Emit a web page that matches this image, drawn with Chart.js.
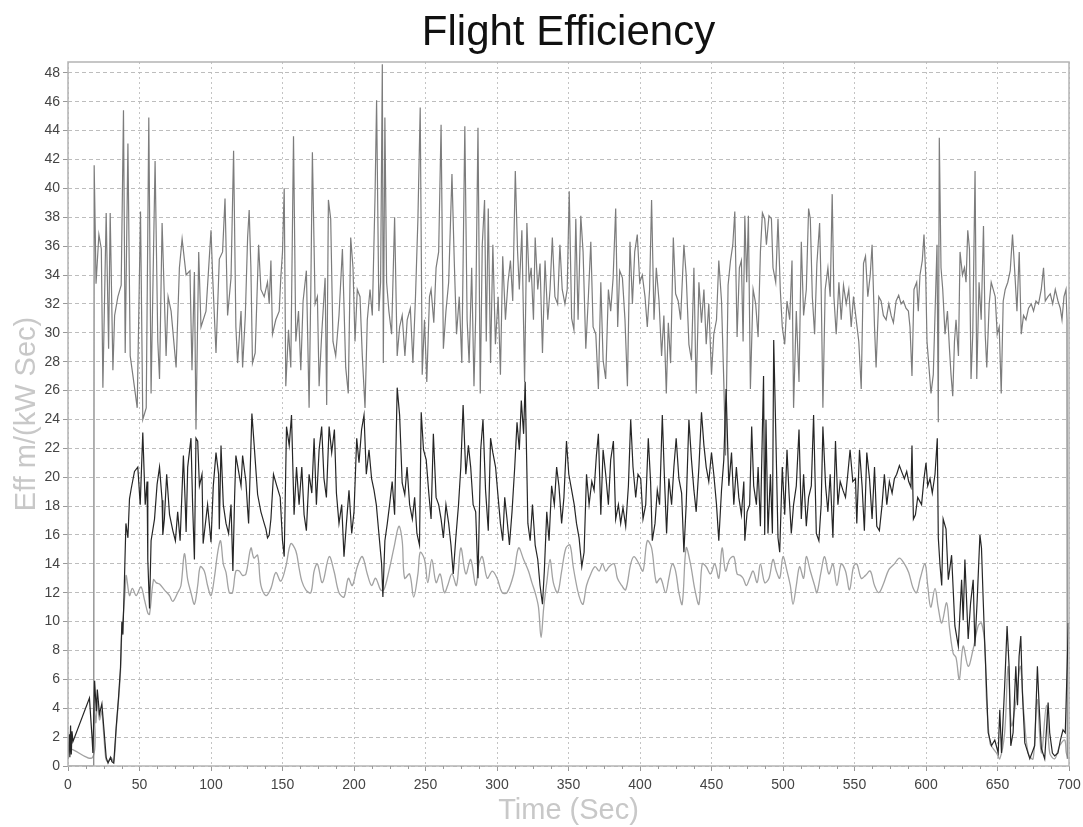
<!DOCTYPE html>
<html>
<head>
<meta charset="utf-8">
<title>Flight Efficiency</title>
<script src="https://cdn.jsdelivr.net/npm/chart.js@4.4.1/dist/chart.umd.min.js"></script>
<style>
  html, body { margin: 0; padding: 0; background: #fff; overflow: hidden; }
  #wrap { width: 1083px; height: 827px; position: relative; }
</style>
</head>
<body>
<div id="wrap"><canvas id="effChart"></canvas></div>
<script>
// upper trace (gray), time in sec
const topTime = [
  0, 18, 18.3, 19, 19.6, 21.6, 23.3, 24.4, 26.7, 28.4,
  29.5, 31.4, 32.6, 34.9, 37.2, 38.8, 40, 41.9, 43.5, 45.3,
  48.4, 50.7, 52.3, 54.7, 56.5, 58.1, 60.9, 62.8, 64, 65.8,
  68.6, 70, 72.1, 75.6, 77.9, 79.8, 82.6, 85.3, 86.7, 88.4,
  89.5, 91.4, 93, 96.5, 100, 101.2, 103.5, 105.8, 108.1, 109.8,
  111.6, 114, 115.8, 117.4, 118.6, 121, 122.1, 124, 125.6, 126.7,
  127.9, 129, 130.9, 133.3, 134.9, 137.2, 139.5, 140.7, 141.9, 143,
  145.3, 147.7, 148.8, 150, 151.2, 152.3, 154.2, 155.8, 157.7, 159.3,
  161.2, 162.8, 164.4, 166.7, 168.6, 169.8, 170.9, 172.8, 174.4, 175.6,
  177.4, 179.8, 180.9, 182.1, 183.7, 185.3, 187.2, 189.5, 191.9, 194.2,
  196, 197.7, 199.3, 200.7, 202.3, 204.2, 205.8, 207.7, 209.3, 211.2,
  212.8, 214.7, 215.8, 217.4, 218.6, 219.8, 220.5, 221.6, 222.8, 224.4,
  226.3, 228.4, 230.2, 231.9, 233.7, 235.6, 237.2, 239.4, 241.2, 243,
  244.7, 246.3, 247.7, 249.3, 250.9, 252.8, 253.9, 255.8, 257.4, 259.2,
  260.9, 262.5, 264.3, 266.2, 268.5, 270.1, 271.7, 273.6, 275.4, 277.5,
  279.1, 280.5, 282.3, 283.9, 285.1, 286.7, 288.3, 289.7, 291.3, 292.5,
  293.9, 295.5, 297.1, 298.9, 300.8, 302.4, 304, 305.9, 307.7, 309.4,
  311, 312.8, 314.4, 315.6, 317.4, 319.3, 320.9, 322.5, 323.9, 325.5,
  326.7, 328.5, 330.1, 331.8, 333.6, 335.5, 337.1, 338.7, 340.5, 342.4,
  344, 345.6, 347.5, 349.1, 350.5, 352.2, 353.8, 355.1, 356.7, 358.6,
  360.2, 362.1, 363.9, 365.6, 367.2, 369.1, 370.9, 372.6, 374.2, 376,
  377.9, 379.5, 381.2, 383, 384.4, 385.8, 387.7, 389.5, 391.2, 393,
  394.7, 396.3, 398.1, 399.8, 401.6, 403.5, 405.1, 406.7, 408.1, 409.8,
  411.4, 413.3, 415.1, 416.7, 418.4, 419.8, 421.4, 423.3, 424.9, 426.7,
  428.4, 430.7, 432.3, 434.2, 436, 437.7, 439.3, 441.2, 443, 444.7,
  446.3, 448.1, 450, 451.6, 453.5, 455.1, 457, 458.6, 459.8, 461.6,
  463.3, 464.9, 466.3, 467.9, 469.5, 470.9, 472.1, 473.3, 474.6, 475.8,
  477.2, 479.1, 480.9, 482.6, 484.2, 485.6, 487.2, 488.4, 490.2, 491.9,
  493, 494.9, 496.5, 498.1, 499.5, 501.2, 502.8, 504.7, 506.3, 507.4,
  509.3, 511.2, 512.8, 514.4, 516.3, 517.9, 519.1, 520.5, 522.1, 523.7,
  525.6, 526.7, 527.9, 529.5, 531.4, 533, 534.4, 535.6, 537.2, 539.1,
  540.7, 542.3, 544.2, 546, 547.7, 549.3, 551.2, 553, 554.7, 556.3,
  557.7, 559.3, 561, 562.3, 564, 565.1, 567, 568.6, 570.2, 572.1,
  574, 575.6, 577.2, 579.1, 580.9, 582.6, 584.2, 586, 587.7, 588.8,
  590.2, 591.6, 593.5, 594.6, 595.8, 597.4, 598.6, 599.8, 600.7, 602.1,
  603.5, 605.1, 606.8, 607.7, 608.6, 609.3, 610.5, 611.7, 613.3, 615,
  616.4, 617.5, 618.7, 619.9, 621, 622.7, 623.8, 625.5, 626.9, 628,
  629.2, 630.4, 631.5, 632.7, 634.3, 635.5, 637.1, 638.6, 640.2, 641.4,
  642.5, 644.2, 645.6, 647, 648.4, 649.8, 651.2, 652.6, 654, 655.4,
  657.2, 658.9, 660.5, 661.9, 663.6, 665.2, 666.6, 668.2, 669.9, 671.7,
  673.6, 675.2, 676.9, 678.7, 680.6, 682.2, 683.4, 685.3, 686.9, 688.6,
  690.4, 692.3, 693.9, 695.1, 696.5, 697.9, 698.6, 698.8
];
const topEff = [
  0, 0, 41.6, 37.4, 33.4, 36.8, 35.8, 26.2, 38.3, 28.9,
  38.3, 27.4, 31.2, 32.5, 33.3, 45.4, 28.6, 43.1, 28.4, 27.1,
  24.8, 38.4, 24, 24.8, 44.9, 25.8, 41.9, 29.4, 26.8, 37.6,
  28.4, 32.5, 31.5, 27.6, 34.5, 36.5, 34, 34.3, 27.4, 34.2,
  23.3, 35.6, 30.4, 31.5, 37.1, 33.8, 28.6, 35.1, 35.6, 39.3,
  31.2, 33.8, 42.6, 30.4, 27.9, 31.5, 27.6, 31.2, 36.6, 38.5,
  34.5, 27.9, 28.6, 36.1, 33, 32.5, 33.5, 32, 35, 29.9,
  30.9, 31.5, 33.8, 35.6, 40, 26.3, 30.2, 27.6, 43.6, 29.4,
  31.5, 27.4, 32.2, 34.3, 24.8, 33, 42.5, 32, 32.5, 26.3,
  29.9, 33.8, 25, 39.2, 37.9, 29.4, 28.4, 31.2, 35.8, 27.6,
  25.8, 36.6, 34.5, 29.4, 33, 32.5, 28.4, 24.8, 30.9, 33,
  31.2, 39.4, 46.1, 31.5, 33.5, 48.6, 27.9, 44.9, 33.5, 31.5,
  29.9, 38, 28.4, 30.4, 31.2, 28.4, 30.9, 31.7, 27.9, 32.5,
  37.9, 45.6, 27.1, 30.9, 26.6, 32.5, 33, 30.7, 34.5, 35.6,
  44.4, 28.9, 31.5, 33.5, 41, 35, 29.9, 32.5, 27.9, 44.3,
  30.9, 27.9, 34.5, 26.3, 31.2, 44.2, 25.8, 36.1, 39.2, 29.4,
  38.6, 27.9, 36.1, 29.2, 32.5, 27.1, 35.3, 30.9, 33.5, 35,
  32.2, 41.2, 35.6, 33, 37.1, 26.6, 37.6, 33.5, 34.5, 30.9,
  36.6, 33, 34.8, 28.6, 35, 30.9, 33, 36.6, 32.5, 32,
  36.1, 33, 32, 33, 39.8, 31, 30.2, 37.9, 30.9, 38.1,
  35.6, 28.9, 32.5, 36.3, 30.4, 29.9, 26.1, 33.5, 28.1, 26.8,
  33, 31.5, 33.8, 38.6, 30.4, 34.3, 33.8, 30.9, 26.3, 36.3,
  32, 35.6, 36.8, 33.5, 34, 32.5, 30.4, 33, 39.2, 30.9,
  34.5, 32.2, 28.4, 31.2, 25.8, 30.7, 27.9, 36.6, 32.7, 32.2,
  30.9, 36.1, 34, 29.2, 28.1, 34.5, 25.8, 33.5, 30.7, 33,
  29.2, 32, 27.1, 29.9, 30.9, 35, 32.2, 26.6, 21.5, 33.3,
  35, 36.1, 38.4, 29.7, 34.5, 35, 29.4, 38.1, 33.5, 38.1,
  26.1, 33, 32, 29.7, 35.6, 38.3, 37.9, 36.1, 38.1, 37.9,
  34.5, 33.5, 37.9, 33, 30.4, 29.2, 32.2, 30.9, 35, 24.8,
  31.5, 26.6, 36.3, 31.2, 33, 38.6, 37.9, 32.5, 29.9, 34.8,
  37.6, 33, 24.8, 33, 34.5, 32.5, 39.6, 32.5, 29.9, 33.5,
  30.9, 33.3, 32, 33, 30.4, 32.5, 30.9, 29.4, 26.1, 34.8,
  35.3, 32.5, 34, 36.1, 30.4, 27.6, 32.5, 32.2, 31.2, 30.9,
  32, 31.2, 30.7, 32.2, 32.6, 32, 32.2, 31.7, 31.5, 30.4,
  27, 33, 33.5, 31.5, 34, 35, 36.8, 34, 29.4, 27.6,
  25.8, 27.1, 33, 36.1, 23.8, 43.5, 34.5, 33, 29.9, 31.5,
  28.9, 27.1, 25.6, 29.4, 30.9, 28.4, 35.6, 34, 34.5, 33.5,
  37.1, 35.8, 26.8, 29.9, 41.2, 26.8, 33.5, 30.9, 37.4, 29.9,
  27.6, 32, 33.5, 33, 32.5, 29.9, 30.4, 25.8, 32.2, 33,
  33.5, 34.3, 36.8, 34.5, 31.5, 35.6, 29.9, 31.2, 30.9, 31.7,
  32, 31.5, 32.2, 32, 33, 34.5, 32.2, 32.5, 32.7, 32,
  33, 32.2, 31.7, 30.9, 32.5, 33, 30.9, 0.5
];

// middle trace (dark)
const midTime = [
  0, 0.8, 1.3, 1.8, 2.3, 2.8, 3.5, 15, 16.8, 17.4,
  18.6, 19.8, 20.5, 22, 23.7, 25, 26.7, 28, 29.8, 30.7,
  32, 33.7, 35.3, 36.7, 37.7, 38.4, 39.5, 40.5, 41.9, 43,
  44.2, 46.5, 48.8, 50.5, 52.3, 54, 55.3, 55.8, 57, 58.1,
  60.5, 62.3, 64, 65.8, 66.3, 67.4, 69, 71, 73.3, 75.1,
  76.7, 78.4, 80.7, 82, 82.6, 83.7, 86, 87.2, 88.4, 89.5,
  90.7, 91.9, 93.7, 94.5, 95.3, 97.6, 100, 101.6, 103.5, 105.3,
  105.8, 107, 108.6, 110.5, 112.3, 114, 115.3, 116.5, 117.4, 119.3,
  121, 122.1, 124.4, 125.6, 126.3, 128.6, 130.2, 132.6, 134.9, 137.2,
  138.4, 139.5, 140.7, 141.9, 143.7, 146, 148.4, 150, 151.2, 152.8,
  154.7, 156.3, 158.1, 159.8, 161.6, 163.5, 165.1, 166.7, 168.6, 170.5,
  172.1, 173.7, 175.6, 177.4, 179, 180.7, 182.6, 184.4, 186.3, 187.7,
  189.5, 191.4, 193, 194.7, 196.5, 198.4, 200, 201.9, 203.5, 205.3,
  207, 208.6, 210.5, 212.3, 214, 215.6, 217.4, 219.3, 220.2, 221.6,
  223.3, 224.9, 226.7, 228.4, 230.2, 231.9, 233.7, 235.5, 237.1, 238.9,
  240.8, 242.4, 244, 245.8, 247, 248.6, 250.5, 252.3, 253.9, 255.5,
  257.4, 259.2, 260.9, 262.5, 264.3, 266.2, 267.8, 269.4, 271.2, 273.1,
  274.7, 276.3, 278.2, 280, 281.6, 283.3, 285.1, 286.7, 288.6, 290.2,
  292, 293.9, 295.5, 297.1, 299, 300.8, 302.4, 304, 305.4, 307,
  308.7, 310.5, 312.4, 314, 315.6, 317, 318.6, 319.7, 321.6, 323.2,
  324.8, 326.7, 328.5, 330.1, 331.8, 333.1, 334.8, 336.4, 338.2, 340.1,
  341.7, 343.3, 345.2, 346.8, 348.6, 350.2, 352.2, 354, 355.6, 357.4,
  359.3, 360.9, 362.6, 364.4, 366.3, 367.9, 369.5, 370.9, 372.6, 374.2,
  376, 377.9, 379.5, 381.4, 383, 384.9, 386.5, 388.1, 390, 391.9,
  393.5, 395.1, 397, 398.6, 400.5, 402.1, 404, 405.8, 407.4, 408.6,
  410.5, 412.1, 413.7, 415.6, 417, 418.6, 420.2, 422.1, 423.7, 425.3,
  427.2, 429.1, 430.7, 432.3, 434.2, 436, 437.7, 439.3, 441.2, 443,
  444.7, 446.3, 448.1, 450, 451.6, 453.5, 455.1, 457, 458.6, 460.2,
  462.1, 464, 465.6, 467.4, 469.1, 470.9, 472.6, 473.3, 474.9, 476.7,
  478.1, 479.5, 481.4, 482.6, 484.2, 485.6, 486.4, 487.2, 488.1, 489.5,
  491.2, 492.6, 493.5, 494.9, 496.5, 497.7, 499.5, 501.2, 502.8, 504.2,
  505.8, 507.4, 509.3, 511.2, 512.8, 514.4, 516.3, 517.9, 519.8, 521.4,
  523.3, 525.1, 526.7, 527.9, 529.8, 531.4, 533, 534.9, 536.7, 538.4,
  540, 541.9, 543.7, 545.3, 546.9, 548.8, 550.7, 551.6, 553.5, 555.3,
  556.9, 558.6, 560.5, 562.3, 564, 565.6, 567.4, 569.3, 570.9, 572.6,
  574.4, 576.3, 577.9, 579.5, 581.4, 583.3, 584.9, 586.5, 587.9, 589.5,
  590.2, 591.2, 592.6, 594.2, 596.9, 598.6, 600, 601.2, 602.8, 604.4,
  606.3, 607.9, 608.6, 609.8, 611, 612, 614, 615.6, 617.9, 620.2,
  622.6, 624.9, 626, 627.2, 629.5, 631.2, 633, 634.2, 635.8, 637.7,
  638.8, 640, 641.2, 642.3, 643.5, 645.8, 648.1, 650.5, 651.6, 652.8,
  655, 656.7, 658.1, 659.3, 660.9, 662.8, 664, 665.1, 666.3, 667.4,
  669.1, 672.6, 676, 677.9, 679.1, 680.7, 683, 685.4, 686.5, 688.4,
  690, 692.3, 694, 695.8, 697.4, 698.8, 699.5
];
const midEff = [
  0.5, 2.2, 0.6, 2.8, 0.8, 2.4, 1.7, 4.7, 2, 0.9,
  5.9, 3.8, 5.3, 3.6, 4.3, 2.7, 0.6, 0.2, 0.6, 0.3,
  0.2, 2.7, 4.7, 6.8, 10, 9.1, 13, 16.8, 15.8, 18.5,
  19.2, 20.4, 20.7, 18.1, 23.1, 18.1, 19.7, 14.3, 10.9, 15.6,
  17.1, 19.5, 20.7, 18.4, 16, 17.1, 20.2, 17.4, 16.3, 15.6,
  17.6, 15.6, 21.5, 18.1, 16.2, 20.7, 22.7, 17.9, 14.3, 22.7,
  22.5, 19.4, 20.2, 15.4, 16.1, 18.1, 15.5, 19.4, 21.7, 20.2,
  16.4, 22.2, 18.1, 16.8, 16.1, 18.1, 13.5, 18.6, 21.5, 20.4,
  19.4, 21.5, 19.7, 17.8, 16.8, 24.4, 22.2, 18.8, 17.6, 16.8,
  16.4, 15.8, 16, 17.1, 20.2, 19.4, 18.6, 15.6, 14.5, 23.5,
  22.2, 24.3, 17.4, 20.7, 18.1, 20.7, 17.4, 16.3, 20.2, 18.9,
  22.7, 18.1, 21.9, 23.5, 19.9, 18.6, 23.5, 21.7, 23.3, 18.9,
  16.8, 18.1, 14.5, 16.8, 19.1, 16.1, 17.6, 22.7, 21, 23.3,
  24.3, 20.2, 21.9, 19.9, 19.1, 18.1, 16.1, 14, 11.7, 15.6,
  16.8, 18.1, 19.7, 17.4, 26.2, 24.3, 19.6, 18.8, 20.7, 18.1,
  17.1, 18.6, 16.1, 15.3, 24.5, 21.9, 21.2, 18.9, 17.1, 23,
  18.6, 18.1, 17.1, 15.8, 18.1, 16.8, 15.3, 13.3, 15.8, 18.1,
  20.7, 25, 20.2, 22.2, 20.7, 18.1, 17.6, 13, 21.9, 24,
  19.1, 16.3, 22.7, 21.7, 20.7, 18.6, 16.8, 15.6, 18.6, 17.1,
  15.3, 17.6, 20.7, 23.8, 21.9, 25.3, 23, 26.6, 16.8, 15.6,
  18.1, 15.3, 14.3, 12.5, 11.2, 13.5, 17.6, 15.6, 19.4, 18.1,
  20.7, 19.4, 16.8, 18.6, 22.5, 20.2, 19.1, 18.1, 16.8, 15.8,
  13.8, 14.8, 20.2, 18.1, 19.7, 19.1, 21.5, 23, 17.4, 21.9,
  20.2, 18.1, 21.2, 22.5, 17.1, 18.1, 16.8, 17.9, 16.6, 19.4,
  24, 20.7, 18.6, 20.2, 19.9, 17.1, 18.1, 22.7, 19.7, 15.6,
  16.8, 19.1, 18.1, 24.3, 20.2, 16.1, 19.9, 18.1, 20.7, 22.7,
  19.9, 18.9, 14.8, 18.1, 24, 21.2, 19.1, 17.6, 20.7, 24.5,
  22.2, 20.7, 19.7, 21.7, 20.2, 18.1, 15.6, 19.1, 21.2, 26.1,
  19.4, 21.7, 18.1, 20.7, 18.6, 17.4, 19.7, 15.6, 17.6, 18.1,
  23.5, 19.4, 18.1, 20.7, 16.6, 23.3, 27, 16, 24, 16.1,
  20.2, 16.1, 29.5, 23.3, 15.8, 14.8, 20.7, 17.4, 21.9, 18.9,
  16.1, 18.1, 19.4, 23.3, 17.1, 20.2, 16.6, 18.6, 19.4, 24.3,
  16.1, 15.6, 18.1, 23.5, 19.4, 17.6, 20.2, 15.8, 22.5, 18.1,
  19.7, 19.1, 18.6, 20.2, 21.9, 19.7, 19.9, 16.8, 21.9, 19.4,
  16.3, 21.7, 19.9, 17.1, 20.7, 16.6, 16.3, 18.1, 20.2, 18.1,
  19.7, 18.9, 19.9, 20.2, 20.8, 20.3, 19.9, 20.4, 19.7, 19.3,
  22.2, 17.1, 17.4, 18.6, 18.1, 19.9, 21, 19.4, 19.9, 18.9,
  20.2, 22.7, 15.8, 13.9, 12.5, 17.1, 16.4, 12.9, 14.6, 9.7,
  8.3, 12.9, 10.1, 14.3, 8.8, 11.3, 12.9, 8.3, 11.5, 16,
  15.1, 11.5, 8.1, 5.5, 2.3, 1.4, 1.8, 0.9, 3.9, 0.9,
  5.5, 9.7, 6.9, 1.4, 2.3, 6.9, 4.2, 7.6, 9, 5.1,
  1.6, 0.5, 1.4, 6.9, 4.2, 1.2, 0.5, 4.4, 2.3, 0.9,
  0.7, 0.9, 1.8, 2.5, 2.3, 7.2, 9.9
];

// lower trace (light gray, smooth)
const lowTime = [
  0.5, 1.2, 17.2, 18.3, 19.5, 20.5, 22, 23.5, 25, 26.5,
  28, 30, 32, 33.7, 35.3, 36.7, 37.7, 38.7, 40, 40.7,
  43, 45, 47.7, 51, 53.5, 55.8, 57, 59.8, 61.6, 64,
  67.4, 71, 73.3, 76.7, 79, 81.4, 83.7, 86, 88.4, 90.7,
  92.5, 95.3, 97.6, 100, 102.3, 104.7, 106.7, 108.6, 110.5, 112.8,
  115, 117.4, 119.8, 122, 124.4, 127.9, 130, 132.6, 134.9, 138.4,
  141.9, 145.3, 148.8, 152.3, 155.8, 159.3, 161.6, 163.5, 166.3, 169.8,
  172.1, 174.4, 177.9, 182.6, 186, 189.5, 193, 196, 198.8, 202.3,
  205.8, 209.3, 212.3, 215.1, 218.6, 220.9, 224.4, 227.9, 231.4, 233.7,
  235.4, 238.9, 241.7, 244.7, 246.3, 249.3, 251.6, 254.4, 257.4, 260.2,
  263.2, 265.5, 268.5, 271.7, 274.7, 278.2, 281.6, 285.1, 287.4, 289.7,
  293.2, 296.7, 300.1, 303.6, 307, 311.7, 315.1, 318.6, 322, 324.4,
  326.7, 329, 330.8, 332.7, 334.8, 337.1, 339.4, 342.4, 345.2, 348.2,
  351, 353.3, 356.3, 358.6, 360.2, 362.6, 365.6, 368.6, 371.4, 373.7,
  376, 378.4, 381.9, 384.2, 387.2, 390, 393.5, 395.8, 399.3, 402.1,
  405.1, 408.1, 411.4, 414.4, 417.9, 420.2, 422.6, 424.9, 427.2, 429.5,
  432.3, 435.3, 438.4, 441.2, 443.5, 446.3, 449.3, 452.3, 455.1, 457.4,
  459.8, 462.6, 465.6, 467.9, 470.2, 472.1, 474.4, 476.7, 479.1, 481.9,
  484.2, 487.2, 490.2, 493, 495.3, 497.7, 500, 502.8, 505.1, 507,
  509.3, 511.6, 514.4, 516.3, 519.1, 522.1, 523.7, 526.7, 529.1, 532.1,
  534.9, 537.7, 540.7, 543.7, 546.5, 549.3, 551.6, 554.7, 557.7, 561,
  564, 567, 570.2, 574, 577.9, 581.4, 584.9, 587.9, 590.7, 593.3,
  596, 599.3, 601.2, 603.3, 606.3, 608.5, 611, 614.4, 616.5, 619,
  621, 623.3, 626, 629.5, 633, 636.5, 638.8, 641.2, 642.3, 644.7,
  647, 649.3, 651.6, 655, 657.4, 659.8, 663, 666, 668.4, 671.4,
  674.9, 677.7, 680.7, 684.2, 686.5, 690, 693.5, 697, 698.1, 699.5
];
const lowEff = [
  0.9, 1.2, 0.6, 4, 3, 4.5, 3.2, 3.8, 2.2, 0.5,
  0.3, 0.6, 0.3, 2.5, 4.5, 6.5, 9.5, 10.5, 12.2, 13.2,
  11.8, 12.3, 11.8, 12.4, 11.5, 10.6, 10.5, 12.9, 12.7, 12.6,
  12.2, 11.8, 11.4, 12, 12.5, 14.7, 12.9, 12, 11.2, 12.5,
  13.8, 13.5, 12.5, 11.8, 13, 14.8, 15.6, 14, 13.4, 12,
  12, 13.5, 13.5, 13.2, 13.3, 15.1, 14.4, 14.6, 12.5, 11.8,
  12.3, 13.4, 12.8, 13.8, 15.4, 14.9, 13.7, 12.8, 12.2, 12,
  13.5, 14, 12.7, 14.5, 13.5, 12, 11.7, 13, 12.5, 13.8,
  14.5, 13.3, 12.5, 13, 12.2, 12.2, 13.5, 15.1, 16.6, 15.6,
  13, 13.3, 11.7, 13.3, 14.8, 14.3, 12.7, 14.3, 12.7, 13.3,
  12, 12.5, 13.3, 12.5, 15.1, 13.3, 14.3, 12.5, 14, 14.5,
  13, 13.5, 13, 12, 12, 13.3, 15.1, 14.3, 13.5, 12.7,
  12, 11, 8.9, 11, 12.7, 14.3, 12.7, 12, 13.5, 15.1,
  15.3, 13.8, 12.2, 11.4, 11.2, 12.5, 13.3, 13.8, 13.5, 14,
  13.5, 13.8, 14, 13, 12.5, 12.2, 14, 14.5, 14, 13.5,
  15.6, 15.1, 12.7, 13, 12, 13, 14, 13.5, 12, 11.2,
  15.1, 14, 12.2, 11.2, 14, 13.8, 13.3, 14, 13, 15.1,
  13.5, 14.3, 14.5, 13.3, 13.2, 13, 12.5, 13, 13.5, 12.7,
  14, 12.7, 13, 14.3, 13.5, 13, 14.5, 13.5, 12.5, 11.2,
  12.5, 13.8, 13, 14.5, 13.5, 12.5, 12, 13.5, 14.5, 13.3,
  14, 12.5, 14, 13.5, 12.2, 13.8, 14, 13, 13.2, 13.5,
  12.5, 12, 12.6, 13.6, 14, 14.4, 14, 13.4, 12.4, 12,
  13, 14, 12.5, 11, 12.3, 11, 9.9, 11.3, 9.5, 7.8,
  7.5, 6, 8.3, 6.9, 8.1, 9.7, 9.9, 8.3, 4.6, 1.6,
  1.2, 0.9, 0.5, 2.3, 6.9, 2.8, 4.6, 6.9, 3.7, 0.9,
  0.5, 4.6, 0.9, 4.2, 0.9, 0.5, 1.4, 1.8, 0.9, 0.5
];

const FONT = "'Liberation Sans', Arial, sans-serif";
Chart.defaults.font.family = FONT;

function toPoints(times, vals) {
    if (times.length !== vals.length) console.warn('length mismatch', times.length, vals.length);
    return times.map((t, i) => ({ x: t, y: vals[i] }));
}

// frame around plot + small minor ticks on time axis
const plotFrame = {
    id: 'plotFrame',
    afterDraw(chart) {
        const { ctx, chartArea: a, scales } = chart;
        ctx.save();
        ctx.strokeStyle = '#b4b4b4';
        ctx.lineWidth = 1.5;
        ctx.strokeRect(a.left, a.top, a.right - a.left, a.bottom - a.top);
        ctx.strokeStyle = '#9a9a9a';
        ctx.lineWidth = 1;
        for (let v = 0; v <= 700; v += 12.5) {
            if (v % 50 === 0) continue;
            const px = Math.round(scales.x.getPixelForValue(v)) + 0.5;
            ctx.beginPath();
            ctx.moveTo(px, a.bottom);
            ctx.lineTo(px, a.bottom + 3);
            ctx.stroke();
        }
        ctx.restore();
    }
};

const ctx = document.getElementById('effChart').getContext('2d');
const effChart = new Chart(ctx, {
    type: 'line',
    data: {
        datasets: [
            {
                label: 'mid',
                data: toPoints(midTime, midEff),
                borderColor: '#262626',
                borderWidth: 1.2,
                pointRadius: 0,
                tension: 0
            },
            {
                label: 'top',
                data: toPoints(topTime, topEff),
                borderColor: '#7c7c7c',
                borderWidth: 1.2,
                pointRadius: 0,
                tension: 0
            },
            {
                label: 'low',
                data: toPoints(lowTime, lowEff),
                borderColor: '#a2a2a2',
                borderWidth: 1.3,
                pointRadius: 0,
                tension: 0.35
            }
        ]
    },
    options: {
        responsive: true,
        maintainAspectRatio: false,
        animation: false,
        layout: { padding: { left: 0, right: 14, top: 0, bottom: 0 } },
        scales: {
            x: {
                type: 'linear',
                min: 0,
                max: 700,
                ticks: { stepSize: 50, color: '#444', font: { size: 14 }, padding: 6, maxRotation: 0, autoSkip: false },
                grid: { color: '#c4c4c4', tickLength: 5, tickColor: '#999', tickBorderDash: [] },
                border: { display: false, dash: [2, 3] },
                title: {
                    display: true, text: 'Time (Sec)', color: '#c8c8c8',
                    font: { size: 29, lineHeight: 1.1 }, padding: { top: 0, bottom: 0 }
                },
                afterFit: s => { s.height = 61; s.paddingRight = 0; s.paddingLeft = 0; }
            },
            y: {
                min: 0,
                max: 48.75,
                ticks: { stepSize: 2, includeBounds: false, color: '#444', font: { size: 14 }, padding: 3 },
                grid: { color: '#bdbdbd', tickLength: 5, tickColor: '#999', tickBorderDash: [] },
                border: { display: false, dash: [4, 3] },
                title: {
                    display: true, text: 'Eff m/(kW Sec)', color: '#c8c8c8',
                    font: { size: 29 }, padding: { top: 10, bottom: 0 }
                },
                afterFit: s => { s.width = 68; }
            }
        },
        plugins: {
            legend: { display: false },
            tooltip: { enabled: false },
            title: {
                display: true,
                fullSize: false,
                text: 'Flight Efficiency',
                color: '#111',
                font: { size: 42, weight: 'normal' },
                padding: { top: 8, bottom: 3.6 }
            }
        }
    },
    plugins: [plotFrame]
});
</script>
</body>
</html>
